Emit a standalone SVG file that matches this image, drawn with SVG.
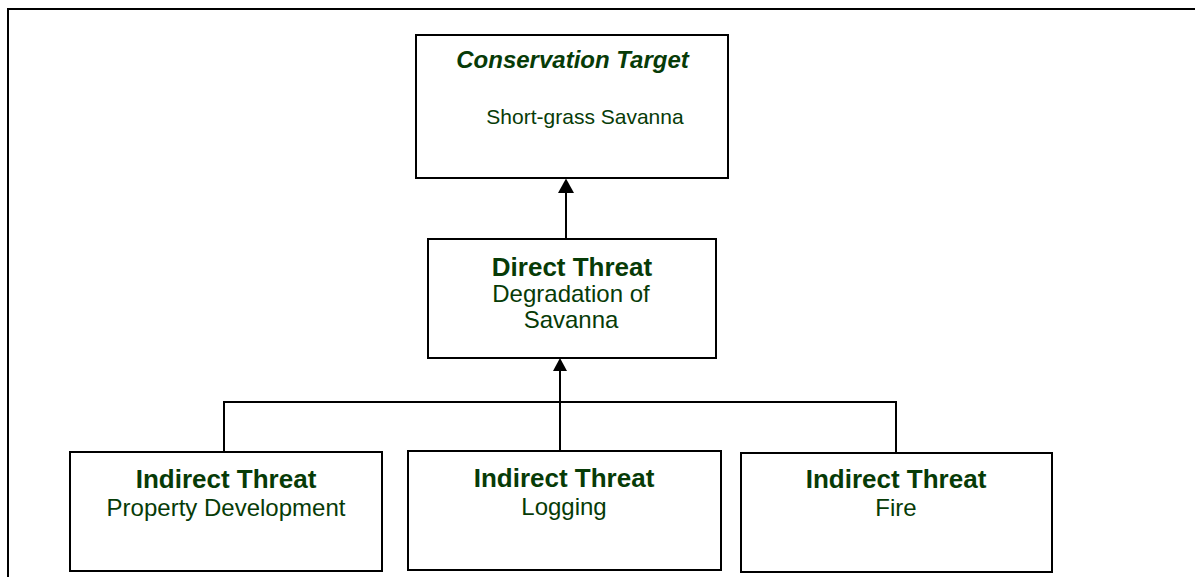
<svg xmlns="http://www.w3.org/2000/svg" width="1195" height="577" viewBox="0 0 1195 577">
  <defs>
    <style>
      .box { fill: #ffffff; stroke: #000000; stroke-width: 2; }
      .wire { fill: none; stroke: #000000; stroke-width: 2; }
      .head { fill: #000000; stroke: none; }
      text { font-family: "Liberation Sans", Arial, sans-serif; fill: #073b07; text-anchor: middle; }
      .title { font-weight: bold; font-size: 26px; }
      .body { font-size: 24px; }
    </style>
  </defs>

  <!-- page frame -->
  <path class="wire" d="M8,577 V9 H1195"/>

  <g id="connectors">
    <!-- direct threat to target -->
    <line class="wire" x1="566" y1="238" x2="566" y2="191"/>
    <polygon class="head" points="566,178.5 574,193 558,193"/>
    <!-- indirect threats to direct threat -->
    <polyline class="wire" points="224,451 224,402 896,402 896,452"/>
    <line class="wire" x1="560" y1="450" x2="560" y2="369"/>
    <polygon class="head" points="560,358 567,371 553,371"/>
  </g>

  <g id="target">
    <rect class="box" x="416" y="35" width="312" height="143"/>
    <text x="572.5" y="68" style="font-weight:bold;font-style:italic;font-size:24px">Conservation Target</text>
    <text x="585" y="124" style="font-size:21px">Short-grass Savanna</text>
  </g>

  <g id="direct-threat">
    <rect class="box" x="428" y="239" width="288" height="119"/>
    <text class="title" x="572" y="276">Direct Threat</text>
    <text class="body" x="571" y="302">Degradation of</text>
    <text class="body" x="571" y="328">Savanna</text>
  </g>

  <g id="indirect-property">
    <rect class="box" x="70" y="452" width="312" height="119"/>
    <text class="title" x="226" y="488">Indirect Threat</text>
    <text class="body" x="226" y="516">Property Development</text>
  </g>

  <g id="indirect-logging">
    <rect class="box" x="408" y="451" width="313" height="119"/>
    <text class="title" x="564" y="487">Indirect Threat</text>
    <text class="body" x="564" y="515">Logging</text>
  </g>

  <g id="indirect-fire">
    <rect class="box" x="741" y="453" width="311" height="119"/>
    <text class="title" x="896" y="488">Indirect Threat</text>
    <text class="body" x="896" y="516">Fire</text>
  </g>
</svg>
